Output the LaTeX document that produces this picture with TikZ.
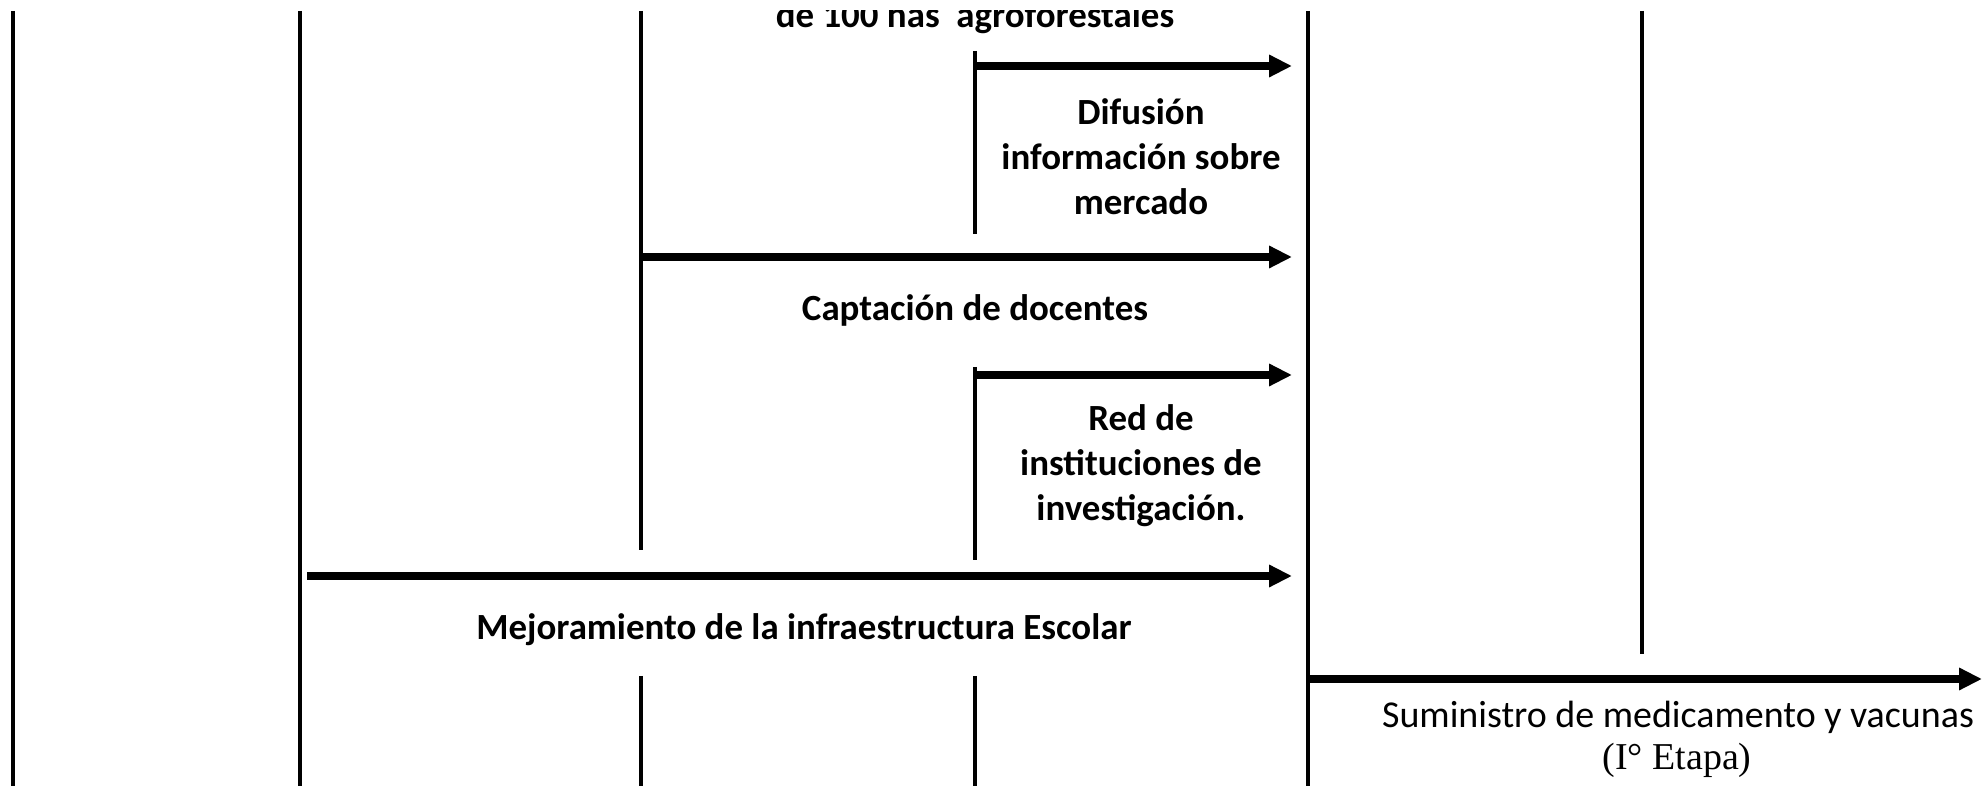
\documentclass[tikz,border=0pt]{standalone}
\usepackage{fontspec}
\setmainfont{Carlito}
\newfontfamily\etapafont{Liberation Serif}
\usetikzlibrary{arrows.meta}

\begin{document}
\begin{tikzpicture}[every node/.style={font=\bfseries\fontsize{10.5}{12.8}\selectfont, align=center},
    phase/.style={line width=1.4pt},
    act/.style={line width=2pt, -{Triangle[length=6.5pt,width=6pt]}}]
    \useasboundingbox (0,0) rectangle (19.82,-7.86);
    % phase lines
    \coordinate (A1) at (0.13,-0.11);  \coordinate (A2) at (0.13,-7.86);
    \coordinate (B1) at (3.00,-0.11);  \coordinate (B2) at (3.00,-7.86);
    \coordinate (C1) at (6.41,-0.11);  \coordinate (C2) at (6.41,-5.50);
    \coordinate (C3) at (6.41,-6.76);  \coordinate (C4) at (6.41,-7.86);
    \coordinate (D1) at (9.75,-0.51);  \coordinate (D2) at (9.75,-2.34);
    \coordinate (D3) at (9.75,-3.67);  \coordinate (D4) at (9.75,-5.60);
    \coordinate (D5) at (9.75,-6.76);  \coordinate (D6) at (9.75,-7.86);
    \coordinate (E1) at (13.08,-0.11); \coordinate (E2) at (13.08,-7.86);
    \coordinate (F1) at (16.42,-0.11); \coordinate (F2) at (16.42,-6.54);
    \draw[phase] (A1) -- (A2);
    \draw[phase] (B1) -- (B2);
    \draw[phase] (C1) -- (C2);
    \draw[phase] (C3) -- (C4);
    \draw[phase] (D1) -- (D2);
    \draw[phase] (D3) -- (D4);
    \draw[phase] (D5) -- (D6);
    \draw[phase] (E1) -- (E2);
    \draw[phase] (F1) -- (F2);
    % activities
    \coordinate (G1) at (9.75,-0.66);  \coordinate (G2) at (12.92,-0.66);
    \coordinate (H1) at (6.41,-2.57);  \coordinate (H2) at (12.92,-2.57);
    \coordinate (I1) at (9.75,-3.75);  \coordinate (I2) at (12.92,-3.75);
    \coordinate (J1) at (3.07,-5.76);  \coordinate (J2) at (12.92,-5.76);
    \coordinate (K1) at (13.08,-6.79); \coordinate (K2) at (19.82,-6.79);
    \draw[act] (G1) -- (G2);
    \draw[act] (H1) -- (H2);
    \draw[act] (I1) -- (I2);
    \draw[act] (J1) -- (J2);
    \draw[act] (K1) -- (K2);
    \node[anchor=base] (top) at (9.75,-0.28) {de 100 has\ \ agroforestales};
    \node (dif) at (11.41,-1.57) {Difusión\\información sobre\\mercado};
    \node (capt) at (9.75,-3.10) {Captación de docentes};
    \node (red) at (11.41,-4.66) {Red de\\instituciones de\\investigación.};
    \node (mejora) at (8.04,-6.30) {Mejoramiento de la infraestructura Escolar};
    \node[font=\fontsize{10.8}{12.8}\selectfont] (sumin) at (16.78,-7.17) {Suministro de medicamento y vacunas};
    \node[font=\etapafont\fontsize{10.8}{12.8}\selectfont] (etapa) at (16.77,-7.60) {(I° Etapa)};
    % cut top band
    \fill[white] (0,0) rectangle (19.82,-0.10);
\end{tikzpicture}
\end{document}
